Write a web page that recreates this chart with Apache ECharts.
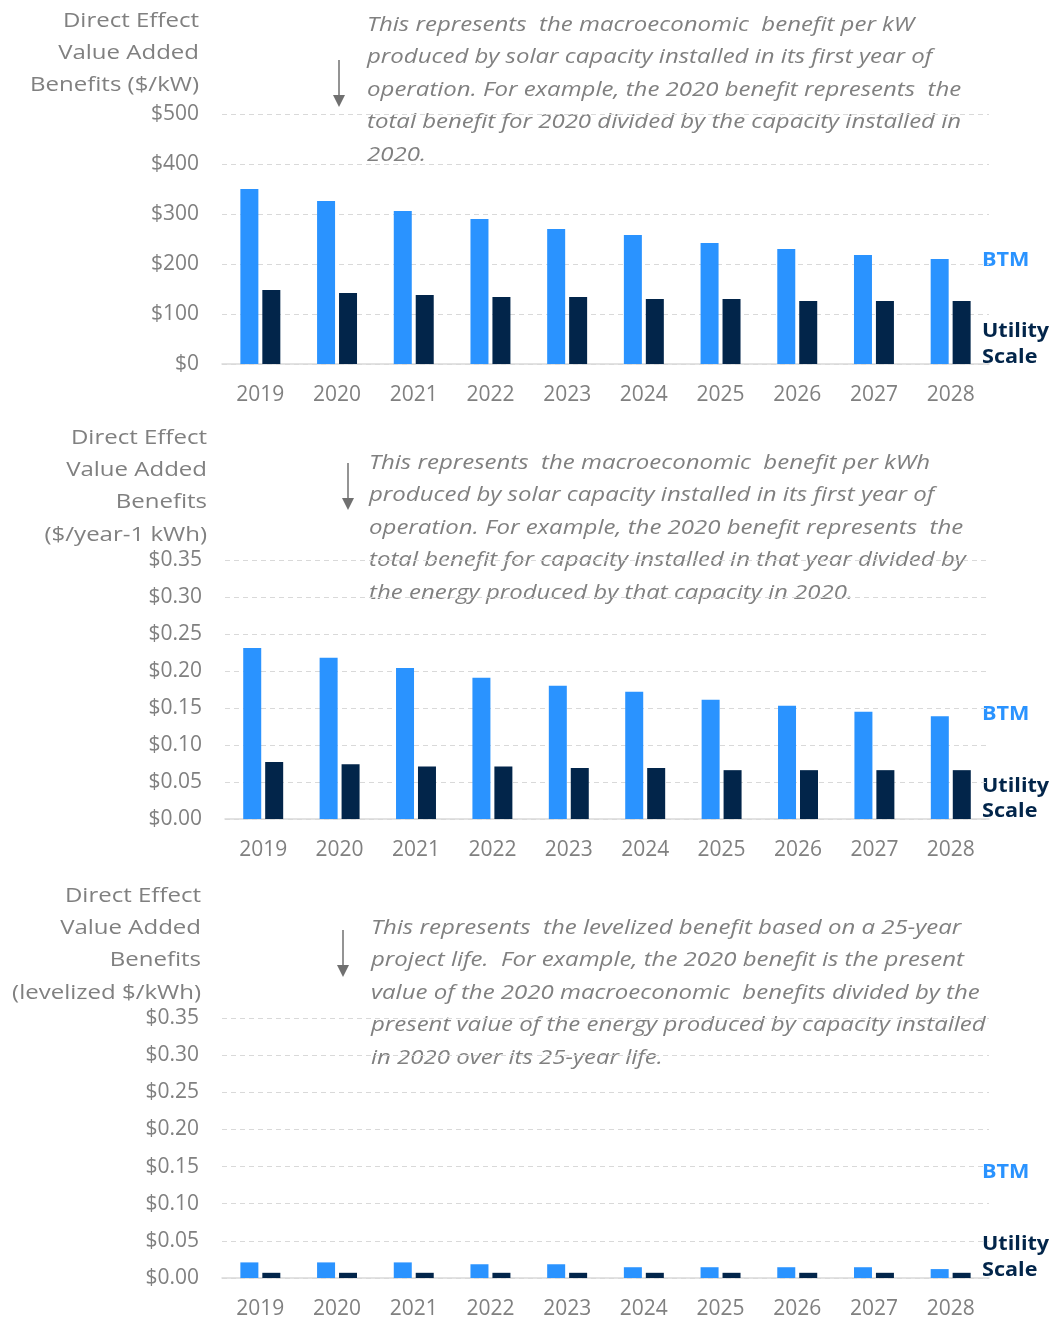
<!DOCTYPE html>
<html>
<head>
<meta charset="utf-8">
<script src="https://cdn.jsdelivr.net/npm/echarts@6/dist/echarts.min.js"></script>
<style>
html,body{margin:0;padding:0;background:#fff;}
#c{width:1059px;height:1322px;}
</style>
</head>
<body>
<div id="c"></div>
<script>
// ---- data ----
const categories = ['2019','2020','2021','2022','2023','2024','2025','2026','2027','2028'];
const btmPerKW  = [350, 326, 306, 290, 270, 258, 242, 230, 218, 210];
const utilPerKW = [148, 142, 138, 134, 134, 130, 130, 126, 126, 126];
const btmPerKWh  = [0.231, 0.218, 0.204, 0.191, 0.180, 0.172, 0.161, 0.153, 0.145, 0.139];
const utilPerKWh = [0.077, 0.074, 0.071, 0.071, 0.069, 0.069, 0.066, 0.066, 0.066, 0.066];
const btmLevelized  = [0.021, 0.021, 0.021, 0.0185, 0.0185, 0.0145, 0.0145, 0.0145, 0.0145, 0.012];
const utilLevelized = [0.007, 0.007, 0.007, 0.007, 0.007, 0.007, 0.007, 0.007, 0.007, 0.007];
const yTicks1 = [0, 100, 200, 300, 400, 500];
const yTicks2 = [0, 0.05, 0.10, 0.15, 0.20, 0.25, 0.30, 0.35];

const titles = [
  ['Direct Effect', 'Value Added', 'Benefits ($/kW)'],
  ['Direct Effect', 'Value Added', 'Benefits', '($/year-1 kWh)'],
  ['Direct Effect', 'Value Added', 'Benefits', '(levelized $/kWh)']
];
const notes = [
  ['This represents  the macroeconomic  benefit per kW',
   'produced by solar capacity installed in its first year of',
   'operation. For example, the 2020 benefit represents  the',
   'total benefit for 2020 divided by the capacity installed in',
   '2020.'],
  ['This represents  the macroeconomic  benefit per kWh',
   'produced by solar capacity installed in its first year of',
   'operation. For example, the 2020 benefit represents  the',
   'total benefit for capacity installed in that year divided by',
   'the energy produced by that capacity in 2020.'],
  ['This represents  the levelized benefit based on a 25-year',
   'project life.  For example, the 2020 benefit is the present',
   'value of the 2020 macroeconomic  benefits divided by the',
   'present value of the energy produced by capacity installed',
   'in 2020 over its 25-year life.']
];

// ---- styling ----
const FONT = '"Open Sans", "Noto Sans", sans-serif';
const GRAY = '#808080';
const BLUE = '#2a93ff';
const NAVY = '#02254a';

const grids = [
  {left: 222, right: 70, top: 114, height: 250},
  {left: 225, right: 70, top: 560, height: 259},
  {left: 222, right: 70, top: 1018, height: 260}
];

function xAx(i){
  return {
    type: 'category', gridIndex: i, data: categories,
    axisLine: {lineStyle: {color: '#d9d9d9', width: 1.5}},
    axisTick: {show: false},
    axisLabel: {color: GRAY, fontFamily: FONT, fontSize: 21, margin: 21}
  };
}
function yAx(i, max, interval, fmt){
  return {
    type: 'value', gridIndex: i, min: 0, max: max, interval: interval,
    axisLine: {show: false}, axisTick: {show: false},
    splitLine: {lineStyle: {color: '#d9d9d9', type: [5, 4], width: 1}},
    axisLabel: {color: GRAY, fontFamily: FONT, fontSize: 21, margin: 23, formatter: fmt}
  };
}
function bar(i, data, color){
  return {
    type: 'bar', xAxisIndex: i, yAxisIndex: i, data: data,
    barWidth: 18, barGap: '22%',
    itemStyle: {color: color},
    silent: true
  };
}

const graphics = [];
const titleCfg = [
  {x: 199, y: 21},
  {x: 207, y: 438},
  {x: 201, y: 896}
];
titles.forEach((lines, k) => {
  lines.forEach((t, j) => {
    graphics.push({type: 'text', x: titleCfg[k].x, y: titleCfg[k].y + j * 32.3, scaleX: 1.2,
      style: {text: t, fill: GRAY, font: '20px ' + FONT, align: 'right', verticalAlign: 'middle'}});
  });
});
const noteCfg = [
  {x: 367, y: 25},
  {x: 369, y: 463},
  {x: 371, y: 928}
];
notes.forEach((lines, k) => {
  lines.forEach((t, j) => {
    graphics.push({type: 'text', x: noteCfg[k].x, y: noteCfg[k].y + j * 32.5, scaleX: 1.2,
      style: {text: t, fill: GRAY, font: 'italic 20px ' + FONT, align: 'left', verticalAlign: 'middle'}});
  });
});
const arrowCfg = [
  {x: 339, y1: 60, y2: 107},
  {x: 348, y1: 463, y2: 510},
  {x: 343, y1: 930, y2: 977}
];
arrowCfg.forEach(a => {
  graphics.push({type: 'line', shape: {x1: a.x, y1: a.y1, x2: a.x, y2: a.y2 - 8},
    style: {stroke: '#707070', lineWidth: 1.5}});
  graphics.push({type: 'polygon', shape: {points: [[a.x - 6, a.y2 - 12], [a.x + 6, a.y2 - 12], [a.x, a.y2]]},
    style: {fill: '#707070'}});
});
const legendCfg = [
  {btm: 260, u: 331, s: 357},
  {btm: 714, u: 786, s: 811},
  {btm: 1172, u: 1244, s: 1270}
];
legendCfg.forEach(l => {
  graphics.push({type: 'text', x: 982, y: l.btm, scaleX: 1.08,
    style: {text: 'BTM', fill: BLUE, font: 'bold 20px ' + FONT, verticalAlign: 'middle'}});
  graphics.push({type: 'text', x: 982, y: l.u, scaleX: 1.08,
    style: {text: 'Utility', fill: NAVY, font: 'bold 20px ' + FONT, verticalAlign: 'middle'}});
  graphics.push({type: 'text', x: 982, y: l.s, scaleX: 1.08,
    style: {text: 'Scale', fill: NAVY, font: 'bold 20px ' + FONT, verticalAlign: 'middle'}});
});

const chart = echarts.init(document.getElementById('c'), null, {renderer: 'canvas'});
chart.setOption({
  animation: false,
  backgroundColor: '#ffffff',
  grid: grids,
  xAxis: [xAx(0), xAx(1), xAx(2)],
  yAxis: [
    yAx(0, yTicks1[yTicks1.length - 1], yTicks1[1] - yTicks1[0], v => '$' + v),
    yAx(1, yTicks2[yTicks2.length - 1], 0.05, v => '$' + v.toFixed(2)),
    yAx(2, yTicks2[yTicks2.length - 1], 0.05, v => '$' + v.toFixed(2))
  ],
  series: [
    bar(0, btmPerKW, BLUE), bar(0, utilPerKW, NAVY),
    bar(1, btmPerKWh, BLUE), bar(1, utilPerKWh, NAVY),
    bar(2, btmLevelized, BLUE), bar(2, utilLevelized, NAVY)
  ],
  graphic: {elements: graphics}
});
</script>
</body>
</html>
